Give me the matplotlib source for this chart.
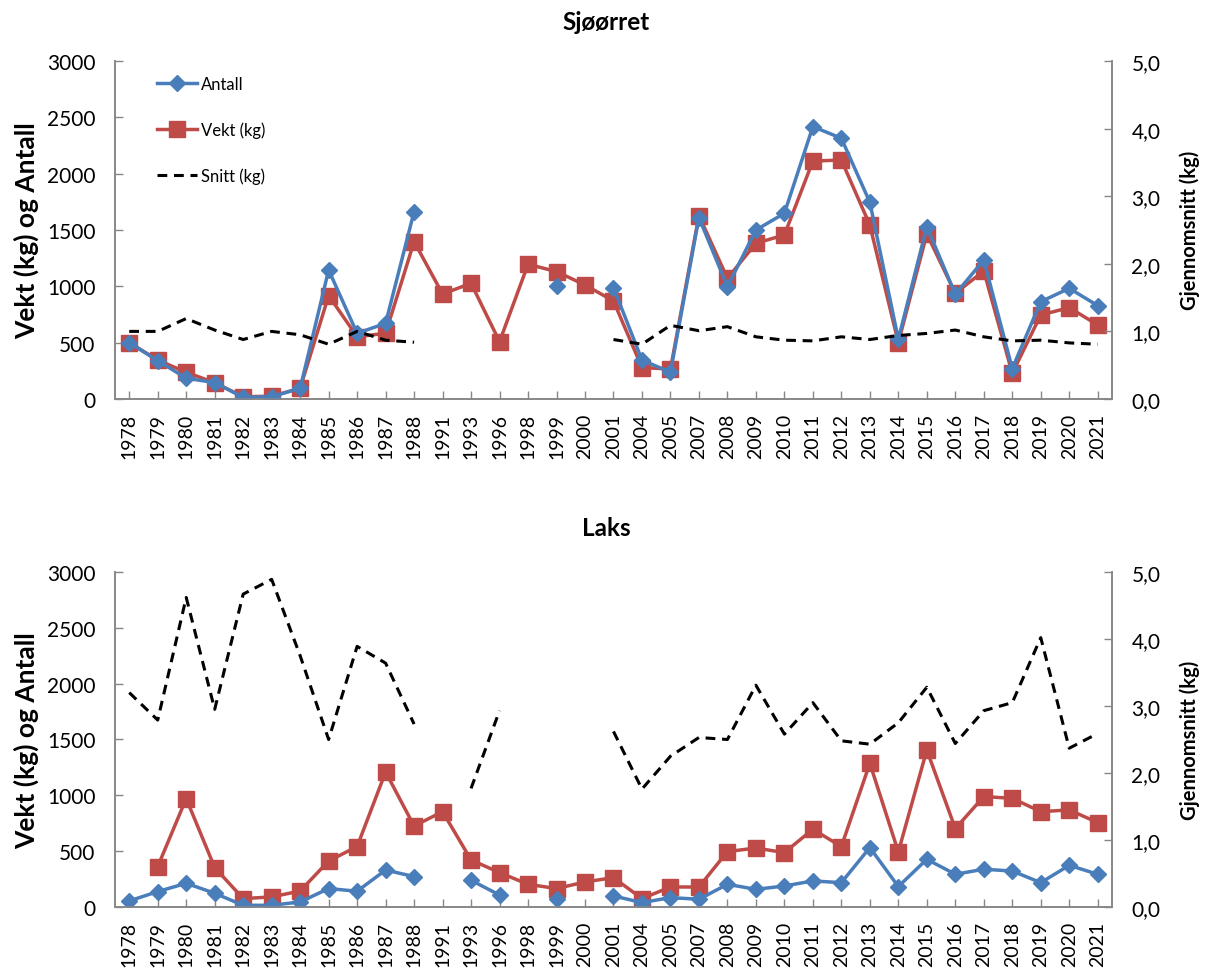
"""Sjøørret og laks: fangst (antall, vekt) og snittvekt per år."""

import matplotlib

matplotlib.use("Agg")
import matplotlib.pyplot as plt
import numpy as np

nan = np.nan

YEARS = [
    "1978", "1979", "1980", "1981", "1982", "1983", "1984", "1985", "1986",
    "1987", "1988", "1991", "1993", "1996", "1998", "1999", "2000", "2001",
    "2004", "2005", "2007", "2008", "2009", "2010", "2011", "2012", "2013",
    "2014", "2015", "2016", "2017", "2018", "2019", "2020", "2021",
]

# Sjøørret
SJO_ANTALL = [
    500, 340, 185, 145, 15, 20, 95, 1145, 583, 672, 1663, nan, nan, nan,
    nan, 1006, nan, 989, 346, 237, 1610, 997, 1500, 1648, 2418, 2314, 1746,
    530, 1530, 930, 1234, 270, 864, 982, 829,
]
SJO_VEKT = [
    500, 346, 237, 145, 20, 25, 95, 918, 553, 583, 1397, 932, 1027, 509,
    1196, 1131, 1012, 870, 279, 266, 1628, 1071, 1382, 1456, 2112, 2121,
    1544, 500, 1465, 938, 1136, 228, 746, 811, 657,
]
SJO_SNITT = [
    1.00, 1.00, 1.19, 1.02, 0.88, 1.00, 0.95, 0.81, 1.00, 0.87, 0.84, nan,
    nan, nan, nan, nan, nan, 0.88, 0.81, 1.09, 1.01, 1.07, 0.92, 0.87, 0.86,
    0.92, 0.88, 0.94, 0.97, 1.02, 0.92, 0.86, 0.87, 0.83, 0.81,
]

# Laks
LAKS_ANTALL = [
    54, 138, 212, 123, 15, 15, 45, 165, 141, 331, 272, nan, 239, 107, nan,
    69, nan, 99, 39, 84, 69, 203, 158, 188, 233, 218, 532, 183, 427, 293,
    338, 322, 218, 373, 293,
]
LAKS_VEKT = [
    nan, 362, 971, 353, 75, 90, 143, 412, 541, 1209, 725, 854, 421, 308,
    203, 165, 224, 263, 75, 179, 179, 496, 528, 487, 696, 541, 1287, 493,
    1406, 702, 989, 973, 854, 869, 756,
]
LAKS_SNITT = [
    3.20, 2.79, 4.62, 2.95, 4.67, 4.89, 3.75, 2.50, 3.89, 3.64, 2.73, nan,
    1.77, 2.93, nan, nan, nan, 2.62, 1.76, 2.25, 2.53, 2.50, 3.31, 2.58,
    3.05, 2.48, 2.43, 2.75, 3.28, 2.44, 2.93, 3.05, 4.02, 2.37, 2.59,
]

BLUE = "#4A7EBB"
RED = "#BE4B48"
GREY = "#878787"

plt.rcParams["font.family"] = ["Lato", "DejaVu Sans"]


def draw_panel(fig, rect, antall, vekt, snitt, show_legend):
    x = np.arange(len(YEARS))
    ax = fig.add_axes(rect)
    ax2 = ax.twinx()

    ax.plot(x, antall, color=BLUE, lw=2.5, marker="D", ms=8,
            label="Antall", zorder=3)
    ax.plot(x, vekt, color=RED, lw=2.5, marker="s", ms=12,
            label="Vekt (kg)", zorder=2)
    ax2.plot(x, snitt, color="black", lw=2.2, ls=(0, (3.2, 2.2)),
             label="Snitt (kg)")

    ax.set_xlim(-0.5, len(YEARS) - 0.5)
    ax.set_ylim(0, 3000)
    ax.set_yticks(np.arange(0, 3001, 500))
    ax2.set_ylim(0, 5)
    ax2.set_yticks(np.arange(0, 5.01, 1))
    ax2.set_yticklabels([f"{v:.1f}".replace(".", ",") for v in np.arange(0, 5.01, 1)])
    ax.set_xticks(x)
    ax.set_xticklabels(YEARS, rotation=90)

    for a in (ax, ax2):
        a.spines["top"].set_visible(False)
        for side in ("left", "right", "bottom"):
            a.spines[side].set_color(GREY)
            a.spines[side].set_linewidth(1.2)
        a.tick_params(direction="in", length=6, color=GREY, width=1.0,
                      labelsize=15, pad=14)
    ax.tick_params(axis="x", labelsize=14, pad=10)

    if show_legend:
        handles = ax.get_legend_handles_labels()[0] + ax2.get_legend_handles_labels()[0]
        ax.legend(handles=handles, loc="upper left",
                  bbox_to_anchor=(0.042, 0.955), frameon=False, fontsize=12,
                  handlelength=2.4, handletextpad=0.25, labelspacing=1.75,
                  borderaxespad=0, borderpad=0)
    return ax


fig = plt.figure(figsize=(12.08, 9.78), dpi=100)

draw_panel(fig, [0.0952, 0.591, 0.8253, 0.3456],
           SJO_ANTALL, SJO_VEKT, SJO_SNITT, True)
draw_panel(fig, [0.0952, 0.0716, 0.8253, 0.3425],
           LAKS_ANTALL, LAKS_VEKT, LAKS_SNITT, False)

fig.text(0.502, 0.977, "Sjøørret", ha="center", va="center",
         fontsize=17.5, fontweight="bold")
fig.text(0.502, 0.460, "Laks", ha="center", va="center",
         fontsize=17.5, fontweight="bold")

for yc in (0.764, 0.243):
    fig.text(0.022, yc, "Vekt (kg) og Antall", rotation=90, ha="center",
             va="center", fontsize=19, fontweight="bold")
    fig.text(0.985, yc, "Gjennomsnitt (kg)", rotation=90, ha="center",
             va="center", fontsize=14.5, fontweight="bold")

fig.savefig("out.png", dpi=100)
